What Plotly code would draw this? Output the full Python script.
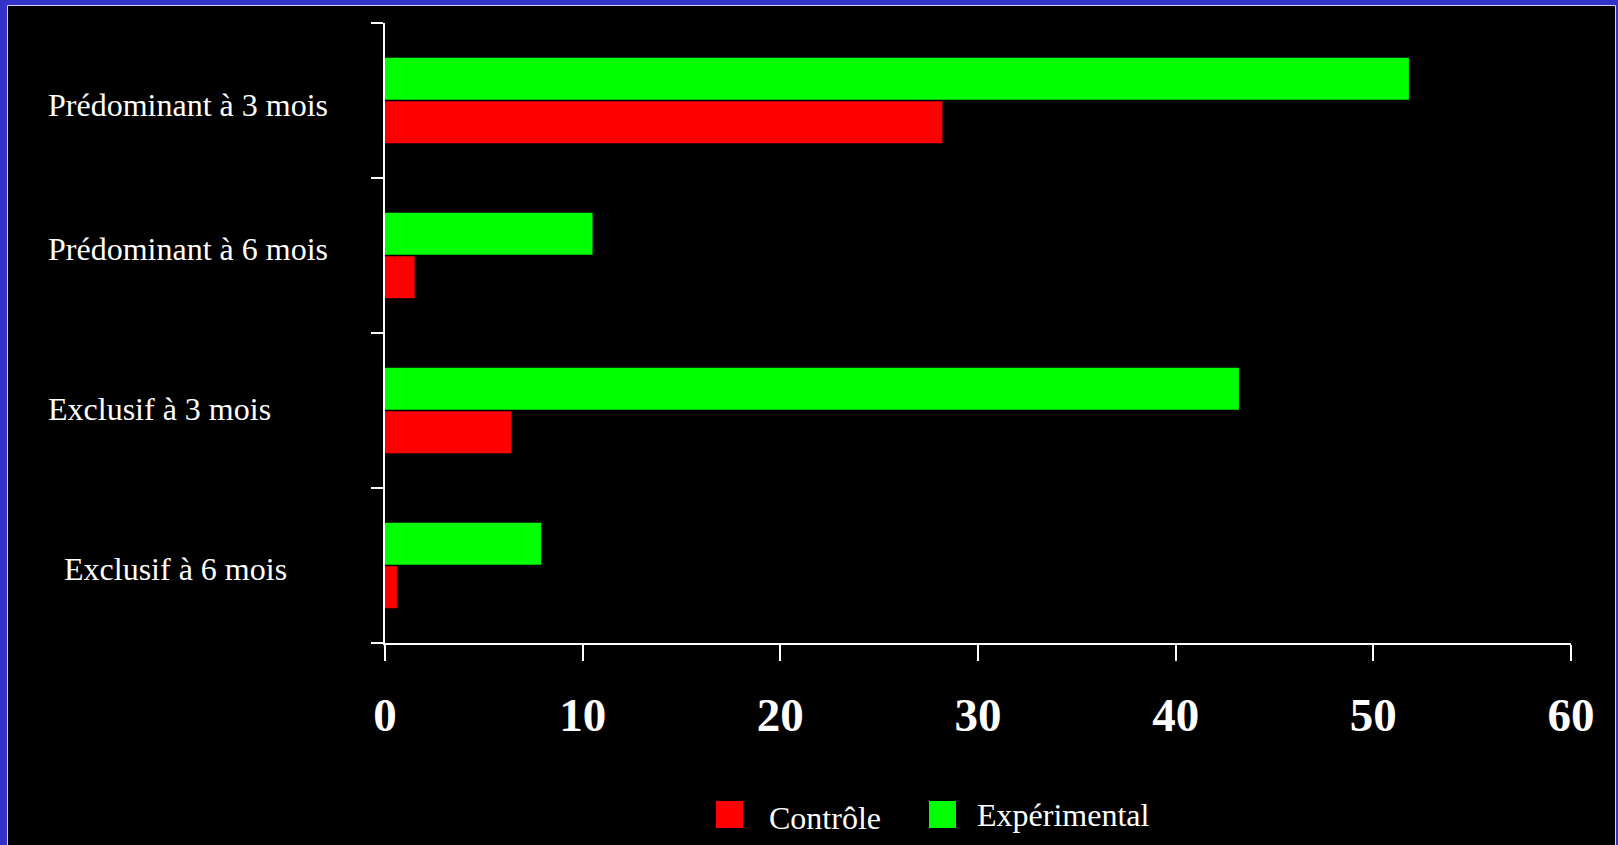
import plotly.graph_objects as go

# Allaitement : pourcentages par groupe
categories = [
    "Exclusif à 6 mois",
    "Exclusif à 3 mois",
    "Prédominant à 6 mois",
    "Prédominant à 3 mois",
]
series_names = ["Contrôle", "Expérimental"]
controle = [0.6, 6.4, 1.5, 28.2]
experimental = [7.9, 43.2, 10.5, 51.8]
x_ticks = [0, 10, 20, 30, 40, 50, 60]

series_values = [controle, experimental]
series_colors = ["#FF0000", "#00FF00"]

W, H = 1618, 845
M_L, M_R, M_T, M_B = 385, 47, 23, 202
PW, PH = W - M_L - M_R, H - M_T - M_B


def px_x(px):
    return (px - M_L) / PW


def px_y(py):
    return (H - M_B - py) / PH


SERIF = "Liberation Serif, Times New Roman, serif"

fig = go.Figure()
for name, vals, col in zip(series_names, series_values, series_colors):
    fig.add_trace(go.Bar(
        y=categories, x=vals, name=name, orientation="h",
        marker=dict(color=col, line=dict(width=0)),
        showlegend=False,
    ))

# category labels, set left of the axis
label_xshift = [-323, -339, -339, -339]
label_yshift = [-3, 2, 7, -4]
annotations = []
for cat, dx, dy in zip(categories, label_xshift, label_yshift):
    annotations.append(dict(
        x=0, xref="paper", y=cat, yref="y", xanchor="left", yanchor="middle",
        xshift=dx, yshift=dy, text=cat, showarrow=False,
        font=dict(family=SERIF, size=32, color="white"),
    ))

# frame: blue page border with black panel
shapes = [dict(
    type="rect", xref="paper", yref="paper", layer="below",
    x0=px_x(7.5), x1=px_x(1615.5), y0=px_y(860), y1=px_y(5.5),
    fillcolor="black", line=dict(color="#d4d4f4", width=1),
)]

# legend keys
legend_items = [(716, 767, 818), (929, 975, 815)]
for (sq_x, tx_x, ty), name, col in zip(legend_items, series_names, series_colors):
    shapes.append(dict(
        type="rect", xref="paper", yref="paper",
        x0=px_x(sq_x), x1=px_x(sq_x + 27), y0=px_y(828), y1=px_y(801),
        fillcolor=col, line=dict(width=0),
    ))
    annotations.append(dict(
        x=px_x(tx_x), xref="paper", y=px_y(ty), yref="paper",
        xanchor="left", yanchor="middle", text=name, showarrow=False,
        font=dict(family=SERIF, size=32, color="white"),
    ))

fig.update_layout(
    width=W, height=H,
    margin=dict(l=M_L, r=M_R, t=M_T, b=M_B, autoexpand=False),
    paper_bgcolor="#3333CC",
    plot_bgcolor="black",
    barmode="group",
    bargap=0.44,
    bargroupgap=0.03,
    showlegend=False,
    shapes=shapes,
    annotations=annotations,
    xaxis=dict(
        range=[0, 60], tickvals=x_ticks, ticktext=[str(v) for v in x_ticks],
        showgrid=False, zeroline=False,
        showline=True, linecolor="white", linewidth=2,
        ticks="outside", ticklen=16, tickwidth=2, tickcolor="white",
        tickfont=dict(family=SERIF, size=47, color="white", weight="bold"),
        ticklabelstandoff=14,
        fixedrange=True,
    ),
    yaxis=dict(
        type="category", categoryorder="array", categoryarray=categories,
        range=[-0.5, 3.5],
        showgrid=False, zeroline=False, showticklabels=False,
        showline=True, linecolor="white", linewidth=2,
        ticks="outside", tickson="boundaries", ticklen=12, tickwidth=2,
        tickcolor="white",
        fixedrange=True,
    ),
)

fig.write_html("out.html")
